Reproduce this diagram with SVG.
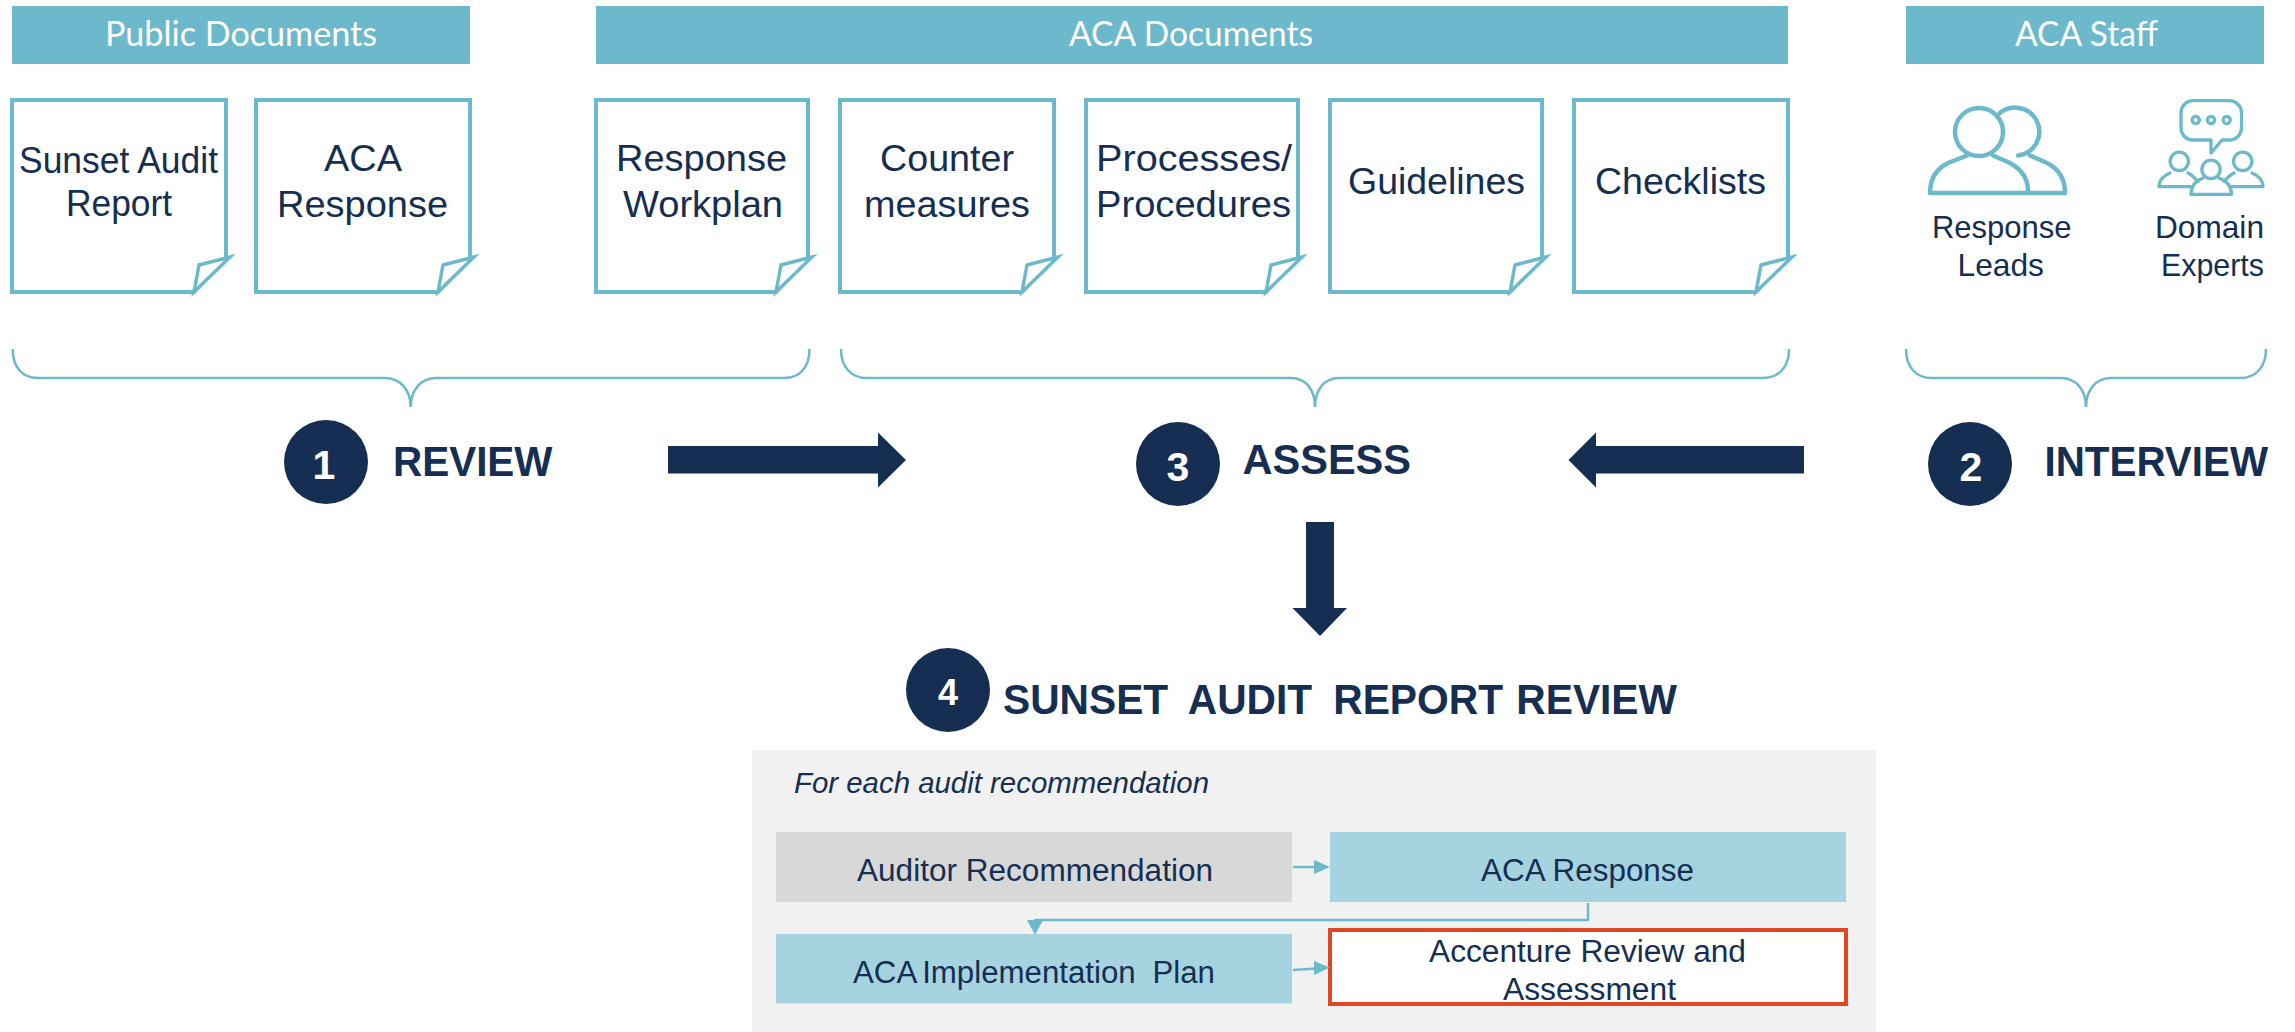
<svg xmlns="http://www.w3.org/2000/svg" width="2295" height="1032" viewBox="0 0 2295 1032">
<style>
text{font-family:"Liberation Sans",Arial,sans-serif;fill:#152e51}
.hd{font-family:Lato,"Open Sans",sans-serif;font-size:34px;fill:#fff}
.bar{fill:#6db9cc}
.doc{font-size:37px}
.staff{font-size:30.500px}
.h{font-size:42px;font-weight:bold}
.n{font-size:41px;font-weight:bold;fill:#fff;text-anchor:middle}
.c{fill:#152e51}
.page{fill:#fff;stroke:#6db9cc;stroke-width:4;stroke-miterlimit:8}
.fold{fill:#fff;stroke:#6db9cc;stroke-width:3.500;stroke-miterlimit:10}
.br{fill:none;stroke:#6db9cc;stroke-width:2.500}
.ic{fill:none;stroke:#6db9cc;stroke-linecap:round;stroke-linejoin:round}
.box{font-size:31px}
.arr{fill:#152e51}
.cl{fill:none;stroke:#6db9cc;stroke-width:2.500}
.ch{fill:#6db9cc}
</style>
<defs>
<path id="fold" class="fold" d="M-32 0L-27-27L4-35Z"/>
</defs>
<g id="header-public"><rect class="bar" x="12" y="6" width="458" height="58"/><text class="hd" x="105" y="46" textLength="272" lengthAdjust="spacingAndGlyphs">Public Documents</text></g>
<g id="header-aca"><rect class="bar" x="596" y="6" width="1192" height="58"/><text class="hd" x="1069" y="46" textLength="244" lengthAdjust="spacingAndGlyphs">ACA Documents</text></g>
<g id="header-staff"><rect class="bar" x="1906" y="6" width="358" height="58"/><text class="hd" x="2015" y="46" textLength="143" lengthAdjust="spacingAndGlyphs">ACA Staff</text></g>

<g id="doc-sunset"><path class="page" d="M12 100H226V258L194 292H12Z"/><use href="#fold" x="226" y="292"/><text class="doc" x="19" y="172.500" textLength="199" lengthAdjust="spacingAndGlyphs">Sunset Audit</text><text class="doc" x="66" y="216" textLength="106" lengthAdjust="spacingAndGlyphs">Report</text></g>
<g id="doc-response"><path class="page" d="M256 100H470V258L438 292H256Z"/><use href="#fold" x="470" y="292"/><text class="doc" x="324" y="170.500" textLength="78" lengthAdjust="spacingAndGlyphs">ACA</text><text class="doc" x="277" y="217" textLength="171" lengthAdjust="spacingAndGlyphs">Response</text></g>
<g id="doc-workplan"><path class="page" d="M596 100H808V258L776 292H596Z"/><use href="#fold" x="808" y="292"/><text class="doc" x="616" y="170.500" textLength="171" lengthAdjust="spacingAndGlyphs">Response</text><text class="doc" x="623" y="217" textLength="160" lengthAdjust="spacingAndGlyphs">Workplan</text></g>
<g id="doc-counter"><path class="page" d="M840 100H1054V258L1022 292H840Z"/><use href="#fold" x="1054" y="292"/><text class="doc" x="880" y="170.500" textLength="134" lengthAdjust="spacingAndGlyphs">Counter</text><text class="doc" x="864" y="217" textLength="166" lengthAdjust="spacingAndGlyphs">measures</text></g>
<g id="doc-processes"><path class="page" d="M1086 100H1298V258L1266 292H1086Z"/><use href="#fold" x="1298" y="292"/><text class="doc" x="1096" y="170.500" textLength="196" lengthAdjust="spacingAndGlyphs">Processes/</text><text class="doc" x="1096" y="217" textLength="195" lengthAdjust="spacingAndGlyphs">Procedures</text></g>
<g id="doc-guidelines"><path class="page" d="M1330 100H1542V258L1510 292H1330Z"/><use href="#fold" x="1542" y="292"/><text class="doc" x="1348" y="194" textLength="177" lengthAdjust="spacingAndGlyphs">Guidelines</text></g>
<g id="doc-checklists"><path class="page" d="M1574 100H1788V258L1756 292H1574Z"/><use href="#fold" x="1788" y="292"/><text class="doc" x="1595" y="194" textLength="171" lengthAdjust="spacingAndGlyphs">Checklists</text></g>

<g id="staff-leads">
<g class="ic" stroke-width="4.500">
<circle cx="1979" cy="132" r="24"/>
<path d="M1998 115A24 24 0 1 1 2018 155.500"/>
<path d="M1967 155.500L1948 163C1936 169 1930 180 1930 193H2065C2065 180 2059 169 2047 163L2030 155.500"/>
<path d="M1993 155.500L2010 163C2021 169 2028 178 2028 191"/>
</g>
<text class="staff" x="1932" y="237.500" textLength="139.500" lengthAdjust="spacingAndGlyphs">Response</text><text class="staff" x="1957.500" y="275.500" textLength="86.500" lengthAdjust="spacingAndGlyphs">Leads</text></g>
<g id="staff-experts">
<g class="ic" stroke-width="3.300">
<path d="M2193 100.700H2229.500A12 12 0 0 1 2241.500 112.700V128A12 12 0 0 1 2229.500 140H2222L2211 153V140H2193A12 12 0 0 1 2181 128V112.700A12 12 0 0 1 2193 100.700Z"/>
<circle cx="2195.700" cy="120" r="3.600"/><circle cx="2211" cy="120" r="3.600"/><circle cx="2226.700" cy="120" r="3.600"/>
<circle cx="2179.300" cy="161.300" r="9.200"/><circle cx="2242.700" cy="161.300" r="9.200"/><circle cx="2211" cy="169.300" r="9.200"/>
<path d="M2170 173C2163 176 2159 180 2159 186.700H2192"/><path d="M2188 173C2192 175 2195 178 2198 181.500"/>
<path d="M2252 173C2259 176 2263 180 2263 186.700H2230"/><path d="M2234 173C2230 175 2227 178 2224 181.500"/>
<path d="M2203 178C2195 181 2191 187 2191 194.300H2231.500C2231.500 187 2227 181 2219 178"/>
</g>
<text class="staff" x="2155" y="237.500" textLength="109" lengthAdjust="spacingAndGlyphs">Domain</text><text class="staff" x="2161" y="275.500" textLength="103" lengthAdjust="spacingAndGlyphs">Experts</text></g>

<g id="brace-1"><path class="br" d="M12.700 349C12.700 367 22 378 38 378H385C400 378 410.700 390 410.700 407C410.700 390 421 378 436 378H784C800 378 809.500 367 809.500 349"/></g>
<g id="brace-2"><path class="br" d="M841 349C841 367 851 378 867 378H1291C1306 378 1315 390 1315 407C1315 390 1324 378 1339 378H1763C1779 378 1789 367 1789 349"/></g>
<g id="brace-3"><path class="br" d="M1906 349C1906 367 1916 378 1932 378H2061C2076 378 2086 390 2086 407C2086 390 2096 378 2111 378H2240C2256 378 2266 367 2266 349"/></g>

<g id="step-1"><circle class="c" cx="326" cy="462" r="42"/><text class="n" x="324" y="479">1</text><text class="h" x="393" y="476" textLength="159.500" lengthAdjust="spacingAndGlyphs">REVIEW</text></g>
<g id="step-3"><circle class="c" cx="1178" cy="464" r="42"/><text class="n" x="1178" y="481">3</text><text class="h" x="1242.500" y="474" textLength="168.500" lengthAdjust="spacingAndGlyphs">ASSESS</text></g>
<g id="step-2"><circle class="c" cx="1970" cy="464" r="42"/><text class="n" x="1971" y="481">2</text><text class="h" x="2044.500" y="476" textLength="223.500" lengthAdjust="spacingAndGlyphs">INTERVIEW</text></g>
<g id="step-4"><circle class="c" cx="948" cy="690" r="42"/><text class="n" x="948" y="705" style="font-size:36px">4</text><text class="h" x="1003" y="714" textLength="674" lengthAdjust="spacingAndGlyphs">SUNSET <tspan dx="10">AUDIT</tspan> <tspan dx="10">REPORT</tspan> <tspan dx="2">REVIEW</tspan></text></g>

<g id="panel"><rect x="752" y="750" width="1124" height="282" fill="#f1f1f1"/><text x="794" y="792.500" font-size="30" font-style="italic" textLength="415" lengthAdjust="spacingAndGlyphs">For each audit recommendation</text></g>
<g id="box-auditor"><rect x="776" y="832" width="516" height="70" fill="#d8d8d8"/><text class="box" x="857" y="881" textLength="356" lengthAdjust="spacingAndGlyphs">Auditor Recommendation</text></g>
<g id="box-response"><rect x="1330" y="832" width="516" height="70" fill="#a5d3df"/><text class="box" x="1481" y="881" textLength="213" lengthAdjust="spacingAndGlyphs">ACA Response</text></g>
<g id="box-plan"><rect x="776" y="934" width="516" height="69.500" fill="#a5d3df"/><text class="box" x="853" y="983" textLength="362" lengthAdjust="spacingAndGlyphs">ACA <tspan dx="-2">Implementation</tspan> <tspan dx="8">Plan</tspan></text></g>
<g id="box-accenture"><rect x="1330" y="930" width="516" height="74" fill="#fff" stroke="#e24625" stroke-width="4"/><text class="box" x="1429" y="961.500" textLength="317" lengthAdjust="spacingAndGlyphs">Accenture Review and</text><text class="box" x="1503" y="999.500" textLength="173" lengthAdjust="spacingAndGlyphs">Assessment</text></g>

<g id="connectors">
<path class="arr" d="M668 446H878V432.500L906 460L878 487.500V473.500H668Z"/>
<path class="arr" d="M1804 446H1596V432.500L1568.500 460L1596 487.500V473.500H1804Z"/>
<path class="arr" d="M1306 522H1334V608H1347L1320 636L1292.500 608H1306Z"/>
<path class="cl" d="M1293 867H1316"/><path class="ch" d="M1314 860L1330 867L1314 874Z"/>
<path class="cl" d="M1293 970L1316 968.500"/><path class="ch" d="M1314 961L1330 967.500L1314 975Z"/>
<path class="cl" d="M1588 903V920H1034"/><path class="ch" d="M1027 920L1043 920L1035 935Z"/>
</g>
</svg>
